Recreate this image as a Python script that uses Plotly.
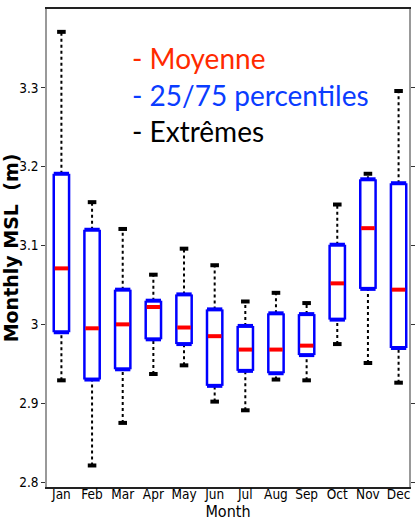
import plotly.graph_objects as go

# Monthly mean sea level statistics (m)
months = ["Jan", "Feb", "Mar", "Apr", "May", "Jun", "Jul", "Aug", "Sep", "Oct", "Nov", "Dec"]
maxima = [3.371, 3.155, 3.121, 3.063, 3.096, 3.075, 3.029, 3.040, 3.027, 3.152, 3.191, 3.296]
q75 = [3.191, 3.120, 3.044, 3.030, 3.038, 3.019, 2.998, 3.014, 3.013, 3.101, 3.184, 3.179]
mean = [3.071, 2.995, 3.000, 3.022, 2.996, 2.985, 2.968, 2.968, 2.973, 3.052, 3.122, 3.044]
q25 = [2.990, 2.930, 2.943, 2.981, 2.975, 2.922, 2.941, 2.938, 2.961, 3.006, 3.045, 2.970]
minima = [2.929, 2.821, 2.875, 2.937, 2.948, 2.902, 2.891, 2.930, 2.929, 2.975, 2.951, 2.926]
y_ticks = [2.8, 2.9, 3.0, 3.1, 3.2, 3.3]
y_tick_labels = ["2.8", "2.9", "3", "3.1", "3.2", "3.3"]

HALF_BOX = 0.25
HALF_CAP = 0.14
BLUE = "#0000ff"
RED = "#ff0000"

pos = list(range(len(months)))


def segments(pairs):
    xs, ys = [], []
    for (x0, y0, x1, y1) in pairs:
        xs += [x0, x1, None]
        ys += [y0, y1, None]
    return xs, ys


fig = go.Figure()

# dotted whiskers
wx, wy = segments(
    [(p, q75[i], p, maxima[i]) for i, p in enumerate(pos)]
    + [(p, minima[i], p, q25[i]) for i, p in enumerate(pos)]
)
fig.add_trace(go.Scatter(x=wx, y=wy, mode="lines",
                         line=dict(color="black", width=2, dash="dot"),
                         hoverinfo="skip", showlegend=False))

# whisker caps
cx, cy = segments(
    [(p - HALF_CAP, maxima[i], p + HALF_CAP, maxima[i]) for i, p in enumerate(pos)]
    + [(p - HALF_CAP, minima[i], p + HALF_CAP, minima[i]) for i, p in enumerate(pos)]
)
fig.add_trace(go.Scatter(x=cx, y=cy, mode="lines",
                         line=dict(color="black", width=4),
                         hoverinfo="skip", showlegend=False))

# box sides
sx, sy = segments(
    [(p - HALF_BOX, q25[i], p - HALF_BOX, q75[i]) for i, p in enumerate(pos)]
    + [(p + HALF_BOX, q25[i], p + HALF_BOX, q75[i]) for i, p in enumerate(pos)]
)
fig.add_trace(go.Scatter(x=sx, y=sy, mode="lines",
                         line=dict(color=BLUE, width=2.5),
                         hoverinfo="skip", showlegend=False))

# box top and bottom (25th / 75th percentiles)
hx, hy = segments(
    [(p - HALF_BOX, q75[i], p + HALF_BOX, q75[i]) for i, p in enumerate(pos)]
    + [(p - HALF_BOX, q25[i], p + HALF_BOX, q25[i]) for i, p in enumerate(pos)]
)
fig.add_trace(go.Scatter(x=hx, y=hy, mode="lines",
                         line=dict(color=BLUE, width=4),
                         hoverinfo="skip", showlegend=False))

# mean bars
mx, my = segments([(p - HALF_BOX + 0.03, mean[i], p + HALF_BOX - 0.03, mean[i])
                   for i, p in enumerate(pos)])
fig.add_trace(go.Scatter(x=mx, y=my, mode="lines",
                         line=dict(color=RED, width=4),
                         hoverinfo="skip", showlegend=False))

narrow = "Liberation Sans Narrow, DejaVu Sans Condensed, Arial Narrow, sans-serif"

fig.update_layout(
    width=417, height=525,
    margin=dict(l=37, r=2, t=9, b=38),
    paper_bgcolor="white", plot_bgcolor="white",
    showlegend=False,
    xaxis=dict(
        range=[-0.47, 11.34],
        tickmode="array", tickvals=pos, ticktext=months,
        tickfont=dict(family=narrow, size=13.5, color="black"),
        ticks="", showgrid=False, zeroline=False,
        ticklabelstandoff=-6,
        showline=True, linecolor="#222", linewidth=1.5, mirror=True,
        title=dict(text="Month", font=dict(family=narrow, size=16, color="black"),
                   standoff=0),
    ),
    yaxis=dict(
        range=[2.7937, 3.4],
        tickmode="array", tickvals=y_ticks, ticktext=y_tick_labels,
        tickfont=dict(family=narrow, size=13.5, color="black"),
        ticks="outside", ticklen=4, tickcolor="#333", mirror="ticks",
        showgrid=False, zeroline=False,
        showline=True, linecolor="#999", linewidth=1.5,
        title=dict(text="Monthly MSL  (m)",
                   font=dict(family="DejaVu Sans", size=19, color="black",
                             weight="bold"),
                   standoff=4),
    ),
)

legend_items = [
    ("- Moyenne", "#ff2a00", 0.897),
    ("- 25/75 percentiles", "#0a3cff", 0.820),
    ("- Extrêmes", "black", 0.745),
]
for text, color, yy in legend_items:
    fig.add_annotation(
        text=text, xref="paper", yref="paper",
        x=(124 - 37) / 378, y=yy, xanchor="left", yanchor="middle",
        showarrow=False, font=dict(family="Lato", size=28, color=color),
    )

fig.write_html("out.html")
